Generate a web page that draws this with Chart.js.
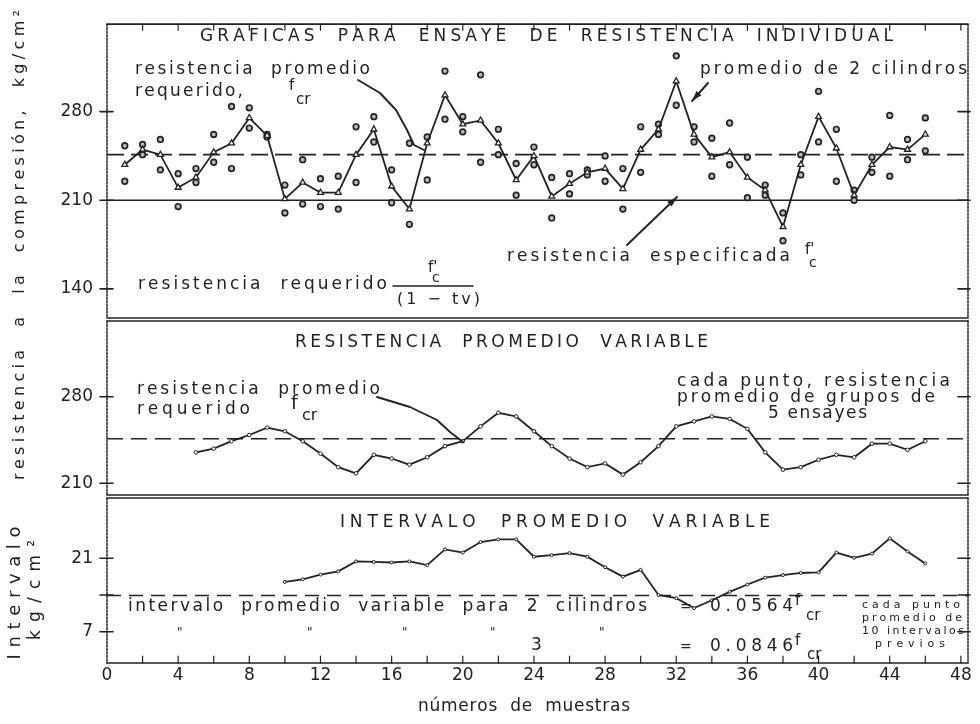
<!DOCTYPE html>
<html>
<head>
<meta charset="utf-8">
<script src="https://cdn.jsdelivr.net/npm/chart.js@4/dist/chart.umd.min.js"></script>
<style>
  html, body { margin: 0; background: #fff; }
  #wrap { position: relative; width: 980px; height: 724px; }
  canvas { position: absolute; left: 0; top: 0; }
</style>
</head>
<body>
<div id="wrap">
  <canvas id="top" width="980" height="724"></canvas>
  <canvas id="mid" width="980" height="724"></canvas>
  <canvas id="bot" width="980" height="724"></canvas>
</div>
<script>
// numero de ensaye
const tests = [1, 2, 3, 4, 5, 6, 7, 8, 9, 10, 11, 12, 13, 14, 15, 16, 17, 18, 19, 20, 21, 22, 23,
  24, 25, 26, 27, 28, 29, 30, 31, 32, 33, 34, 35, 36, 37, 38, 39, 40, 41, 42, 43, 44, 45, 46]

// promedio de 2 cilindros, kg/cm2
const pairAverage = [238, 250, 246, 220, 228, 248, 255, 275, 261, 211, 224, 216, 216, 246, 266, 221,
  203, 255, 293, 270, 273, 255, 226, 245, 213, 223, 232, 235, 219, 250, 266, 304, 262, 244, 248, 228,
  218, 189, 238, 276, 251, 214, 238, 252, 250, 262]
// cilindros individuales
const cylinderA = [253, 254, 258, 231, 235, 262, 284, 283, 262, 222, 242, 227, 229, 268, 276, 234,
  255, 260, 312, 276, 309, 266, 239, 252, 228, 231, 234, 245, 235, 268, 270, 324, 268, 259, 271, 244,
  222, 200, 246, 296, 266, 218, 244, 277, 258, 275]
const cylinderB = [225, 246, 234, 205, 224, 240, 235, 267, 260, 200, 207, 205, 203, 224, 256, 208,
  191, 226, 274, 264, 240, 246, 214, 238, 196, 215, 230, 225, 203, 232, 262, 285, 256, 229, 238, 212,
  214, 178, 230, 256, 225, 210, 232, 229, 242, 249]

// promedio de grupos de 5 ensayes (ensayes 5 a 46)
const movingAverage = [235, 238, 244, 249, 255, 252, 244, 234, 223, 218, 233, 230, 225, 231, 240, 244,
  256, 267, 264, 252, 240, 230, 223, 226, 217, 227, 240, 256, 260, 264, 262, 254, 235, 221, 223, 229,
  233, 231, 242, 242, 237, 244]

// intervalo promedio de 10 intervalos (ensayes 10 a 46)
const movingRange = [16.5, 17.0, 17.9, 18.5, 20.4, 20.3, 20.2, 20.4, 19.7, 22.7, 22.1, 24.1, 24.6,
  24.6, 21.3, 21.6, 22.0, 21.3, 19.3, 17.5, 18.8, 14.0, 13.4, 11.5, 13.0, 14.6, 16.0, 17.3, 17.8,
  18.2, 18.3, 22.1, 21.1, 21.9, 24.8, 22.3, 20.0]

const fcrRequired = 246
const fcSpecified = 210
const rangeLimit = 13.9

const xMax = 48.4
const xTicks = [0, 4, 8, 12, 16, 20, 24, 28, 32, 36, 40, 44, 48]
const xMinor = [2, 4, 6, 8, 10, 12, 14, 16, 18, 20, 22, 24, 26, 28, 30, 32, 34, 36, 38, 40, 42, 44, 46, 48]
const topTicks = [140, 210, 280]
const midTicks = [210, 280]
const botTicks = [7, 14, 21]
const botTickLabels = ["7", "", "21"]

const ink = "#222"
Chart.defaults.font.family = "DejaVu Sans"
Chart.defaults.color = ink
Chart.defaults.animation = false

const points = (xs, ys) => ys.map((y, i) => ({ x: xs[i], y }))
const level = (v) => [{ x: 0, y: v }, { x: xMax, y: v }]

const spaced = (ctx, text, x, y, w) => {
  const chars = [...text]
  const widths = chars.map((c) => ctx.measureText(c).width)
  const total = widths.reduce((s, v) => s + v, 0)
  const gap = w && chars.length > 1 ? (w - total) / (chars.length - 1) : 0
  let cx = x
  chars.forEach((c, i) => {
    ctx.fillText(c, cx, y)
    cx += widths[i] + gap
  })
}

const stroke = (ctx, pts) => {
  ctx.beginPath()
  pts.forEach(([px, py], i) => (i ? ctx.lineTo(px, py) : ctx.moveTo(px, py)))
  ctx.stroke()
}

const sketch = {
  id: "sketch",
  afterDraw(chart, args, opts) {
    const { ctx, chartArea: a } = chart
    const { x, y } = chart.scales
    ctx.save()
    ctx.strokeStyle = ink
    ctx.fillStyle = ink
    ctx.lineCap = "round"
    ctx.lineJoin = "round"

    // marco
    ctx.lineWidth = 1.7
    stroke(ctx, [[a.left, a.top], [a.right, a.top]])
    stroke(ctx, [[a.left, a.bottom], [a.right, a.bottom]])
    ctx.setLineDash([2, 1.5])
    ctx.lineWidth = 1.5
    stroke(ctx, [[a.left, a.top], [a.left, a.bottom]])
    stroke(ctx, [[a.right, a.top], [a.right, a.bottom]])
    ctx.setLineDash([])

    ctx.lineWidth = 1.6
    y.ticks.forEach((t) => {
      const py = y.getPixelForValue(t.value)
      stroke(ctx, [[a.left - 7, py], [a.left + 6, py]])
      stroke(ctx, [[a.right - 10, py], [a.right + 2, py]])
    })
    if (opts.minor) {
      ctx.lineWidth = 1.2
      xMinor.forEach((v) => {
        const px = x.getPixelForValue(v)
        if (opts.minor === "top") stroke(ctx, [[px, a.top], [px, a.top + 6]])
        else stroke(ctx, [[px, a.bottom], [px, a.bottom - 7]])
      })
    }

    ctx.lineWidth = 1.9
    ;(opts.curves || []).forEach((c) => stroke(ctx, c))
    ;(opts.arrows || []).forEach(([x0, y0, x1, y1]) => {
      stroke(ctx, [[x0, y0], [x1, y1]])
      const ang = Math.atan2(y1 - y0, x1 - x0)
      ctx.beginPath()
      ctx.moveTo(x1, y1)
      ctx.lineTo(x1 - 11 * Math.cos(ang - 0.3), y1 - 11 * Math.sin(ang - 0.3))
      ctx.lineTo(x1 - 11 * Math.cos(ang + 0.3), y1 - 11 * Math.sin(ang + 0.3))
      ctx.closePath()
      ctx.fill()
    })

    ctx.textBaseline = "middle"
    ctx.textAlign = "left"
    ;(opts.texts || []).forEach((t) => {
      ctx.font = `${t.size || 17}px "DejaVu Sans"`
      if (t.rot) {
        ctx.save()
        ctx.translate(t.x, t.y)
        ctx.rotate(-Math.PI / 2)
        spaced(ctx, t.text, -t.w / 2, 0, t.w)
        ctx.restore()
      } else {
        spaced(ctx, t.text, t.x, t.y, t.w)
      }
    })
    ;(opts.bars || []).forEach(([x0, x1, py]) => {
      ctx.lineWidth = 1.6
      stroke(ctx, [[x0, py], [x1, py]])
    })
    ctx.restore()
  },
}

const yScale = (min, max, ticks, labels) => ({
  type: "linear",
  min,
  max,
  afterBuildTicks: (s) => {
    s.ticks = ticks.map((v) => ({ value: v }))
  },
  afterFit: (s) => {
    s.width = 107
  },
  grid: { display: false, drawTicks: false },
  border: { display: false },
  ticks: {
    padding: 14,
    font: { size: 17 },
    color: ink,
    callback: (v) => (labels ? labels[ticks.indexOf(v)] : v),
  },
})

const xScale = (show) => ({
  type: "linear",
  min: 0,
  max: xMax,
  display: show,
  afterBuildTicks: (s) => {
    s.ticks = xTicks.map((v) => ({ value: v }))
  },
  afterFit: (s) => {
    s.height = show ? 61 : 0
  },
  grid: { display: false, drawTicks: false },
  border: { display: false },
  ticks: { padding: 2, font: { size: 17 }, color: ink, maxRotation: 0 },
})

const dashed = (v, dash) => ({
  data: level(v),
  borderColor: ink,
  borderWidth: 1.7,
  borderDash: dash,
  pointRadius: 0,
})

const base = (pad, scales, sketchOpts) => ({
  responsive: false,
  devicePixelRatio: 1,
  events: [],
  layout: { padding: pad },
  plugins: { legend: { display: false }, tooltip: { enabled: false }, sketch: sketchOpts },
  scales,
})

// ensayes individuales
new Chart(document.getElementById("top"), {
  type: "line",
  data: {
    datasets: [
      {
        data: points(tests, pairAverage),
        borderColor: ink,
        borderWidth: 1.8,
        pointStyle: "triangle",
        pointRadius: 3.4,
        pointBorderWidth: 1.3,
        pointBackgroundColor: "#fff",
        tension: 0,
      },
      {
        data: points(tests, cylinderA),
        showLine: false,
        pointStyle: "circle",
        pointRadius: 2.8,
        pointBorderWidth: 1.7,
        pointBorderColor: ink,
        pointBackgroundColor: "#bbb",
      },
      {
        data: points(tests, cylinderB),
        showLine: false,
        pointStyle: "circle",
        pointRadius: 2.8,
        pointBorderWidth: 1.7,
        pointBorderColor: ink,
        pointBackgroundColor: "#bbb",
      },
      dashed(fcrRequired, [17, 7]),
      dashed(fcSpecified, []),
    ],
  },
  options: base(
    { top: 18, bottom: 406, left: 0, right: 12 },
    { x: xScale(false), y: yScale(117, 349, topTicks) },
    {
      minor: "top",
      curves: [[[358, 80], [380, 93], [396, 110], [407, 130], [414, 145], [424, 150]]],
      arrows: [
        [708, 83, 692, 101],
        [627, 245, 677, 197],
      ],
      texts: [
        { text: "GRAFICAS  PARA  ENSAYE  DE  RESISTENCIA  INDIVIDUAL", x: 200, y: 37, w: 693 },
        { text: "resistencia  promedio", x: 135, y: 70, w: 235 },
        { text: "requerido,", x: 135, y: 92, w: 108 },
        { text: "f", x: 289, y: 86, size: 15 },
        { text: "cr", x: 296, y: 100, size: 15 },
        { text: "promedio de 2 cilindros", x: 700, y: 70, w: 267 },
        { text: "resistencia  especificada", x: 507, y: 257, w: 283 },
        { text: "f'", x: 805, y: 250, size: 15 },
        { text: "c", x: 809, y: 263, size: 14 },
        { text: "resistencia  requerido", x: 138, y: 285, w: 249 },
        { text: "f'", x: 428, y: 268, size: 15 },
        { text: "c", x: 432, y: 278, size: 14 },
        { text: "(1 − tv)", x: 397, y: 300, w: 83, size: 16 },
        { text: "resistencia  a  la  compresión,  kg/cm²", x: 20, y: 245, w: 470, size: 16, rot: true },
      ],
      bars: [[393, 473, 286]],
    }
  ),
  plugins: [sketch],
})

// resistencia promedio variable
new Chart(document.getElementById("mid"), {
  type: "line",
  data: {
    datasets: [
      {
        data: points(tests.slice(4), movingAverage),
        borderColor: ink,
        borderWidth: 1.8,
        pointRadius: 1.8,
        pointBorderWidth: 1,
        pointBorderColor: ink,
        pointBackgroundColor: "#fff",
        tension: 0,
      },
      dashed(fcrRequired, [16, 8]),
    ],
  },
  options: base(
    { top: 321, bottom: 229, left: 0, right: 12 },
    { x: xScale(false), y: yScale(200.5, 341.2, midTicks) },
    {
      curves: [[[377, 397], [410, 407], [437, 420], [450, 432], [463, 442]]],
      texts: [
        { text: "RESISTENCIA  PROMEDIO  VARIABLE", x: 295, y: 343, w: 413 },
        { text: "resistencia  promedio", x: 137, y: 390, w: 243 },
        { text: "requerido", x: 137, y: 410, w: 113 },
        { text: "f", x: 291, y: 404, size: 19 },
        { text: "cr", x: 302, y: 416, size: 16 },
        { text: "cada punto, resistencia", x: 677, y: 382, w: 273 },
        { text: "promedio de grupos de", x: 677, y: 398, w: 258 },
        { text: "5 ensayes", x: 768, y: 414, w: 99 },
      ],
    }
  ),
  plugins: [sketch],
})

// intervalo promedio variable
new Chart(document.getElementById("bot"), {
  type: "line",
  data: {
    datasets: [
      {
        data: points(tests.slice(9), movingRange),
        borderColor: ink,
        borderWidth: 1.8,
        pointRadius: 1.5,
        pointBorderWidth: 1,
        pointBorderColor: ink,
        pointBackgroundColor: "#fff",
        tension: 0,
      },
      dashed(rangeLimit, [14, 8]),
    ],
  },
  options: base(
    { top: 498, bottom: 0, left: 0, right: 12 },
    { x: xScale(true), y: yScale(1.03, 32.5, botTicks, botTickLabels) },
    {
      minor: "bottom",
      texts: [
        { text: "INTERVALO  PROMEDIO  VARIABLE", x: 340, y: 523, w: 430 },
        { text: "intervalo  promedio  variable  para  2  cilindros", x: 128, y: 607, w: 519 },
        { text: "=", x: 680, y: 607, size: 14 },
        { text: "0.0564", x: 710, y: 607, w: 83 },
        { text: "f", x: 795, y: 601, size: 15 },
        { text: "cr", x: 806, y: 616, size: 15 },
        { text: "\"", x: 177, y: 633, size: 12 },
        { text: "\"", x: 307, y: 633, size: 12 },
        { text: "\"", x: 402, y: 633, size: 12 },
        { text: "\"", x: 490, y: 633, size: 12 },
        { text: "\"", x: 599, y: 633, size: 12 },
        { text: "3", x: 531, y: 646 },
        { text: "=", x: 680, y: 647, size: 14 },
        { text: "0.0846", x: 710, y: 647, w: 83 },
        { text: "f", x: 795, y: 641, size: 15 },
        { text: "cr", x: 807, y: 655, size: 15 },
        { text: "cada punto", x: 862, y: 605, w: 98, size: 11 },
        { text: "promedio de", x: 862, y: 618, w: 100, size: 11 },
        { text: "10 intervalos", x: 862, y: 631, w: 102, size: 11 },
        { text: "previos", x: 875, y: 644, w: 70, size: 11 },
        { text: "números  de  muestras", x: 418, y: 707, w: 212 },
        { text: "Intervalo", x: 15, y: 593, w: 133, size: 18, rot: true },
        { text: "kg/cm²", x: 36, y: 590, w: 100, size: 17, rot: true },
      ],
    }
  ),
  plugins: [sketch],
})
</script>
</body>
</html>
